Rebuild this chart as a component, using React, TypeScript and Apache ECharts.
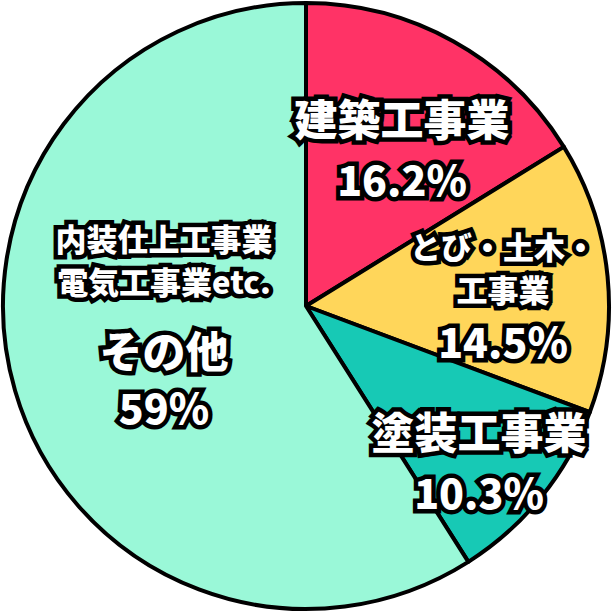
import React, { useEffect, useRef } from "react";
import * as echarts from "echarts";

const categories = ["建築工事業", "とび・土木・\n工事業", "塗装工事業", "その他"];
const values = [16.2, 14.5, 10.3, 59];
const notes = ["", "", "", "内装仕上工事業\n電気工事業etc."];
const colors = ["#FF3366", "#FFD65A", "#17C9B5", "#9AF8D8"];

const labelPos = [
  [402, 147],
  [503, 297],
  [479, 466],
  [164, 324],
];

const FONT = '"Noto Sans CJK JP", "Noto Sans", sans-serif';
const base = {
  color: "#fff",
  fontFamily: FONT,
  fontWeight: 900 as any,
  textBorderColor: "#000",
  textBorderWidth: 9,
};

export default function App() {
  const ref = useRef<HTMLDivElement>(null);
  useEffect(() => {
    if (!ref.current) return;
    const chart = echarts.init(ref.current, null, { renderer: "svg" });
    const data = categories.map((c, i) => ({
      name: c,
      value: values[i],
      itemStyle: { color: colors[i] },
    }));
    chart.setOption({
      animation: false,
      series: [
        {
          type: "pie",
          center: [306, 306],
          radius: [0, 303],
          startAngle: 90,
          clockwise: true,
          data,
          itemStyle: { borderColor: "#000", borderWidth: 4 },
          labelLine: { show: false },
          label: {
            show: true,
            position: "inside",
            formatter: (p: any) => {
              const i = p.dataIndex;
              const lines: string[] = [];
              if (notes[i]) {
                notes[i].split("\n").forEach((l) => lines.push(`{s|${l}}`));
                lines.push("{gap|}");
              }
              const nameStyle = i === 1 ? "s" : i === 2 ? "n2" : "n";
              p.name.split("\n").forEach((l: string) => lines.push(`{${nameStyle}|${l}}`));
              lines.push(`{p${i}|${p.value}%}`);
              return lines.join("\n");
            },
            rich: {
              n: { ...base, fontSize: 43, lineHeight: 62 },
              n2: { ...base, fontSize: 43, lineHeight: 50 },
              s: { ...base, fontSize: 31, lineHeight: 43 },
              gap: { ...base, fontSize: 10, lineHeight: 16 },
              p0: { ...base, fontSize: 41, lineHeight: 60 },
              p1: { ...base, fontSize: 41, lineHeight: 60 },
              p2: { ...base, fontSize: 41, lineHeight: 72 },
              p3: { ...base, fontSize: 41, lineHeight: 52 },
            },
          },
          labelLayout: (params: any) => {
            const pos = labelPos[params.dataIndex];
            return { x: pos[0], y: pos[1], align: "center", verticalAlign: "middle" };
          },
        },
      ],
    });
    return () => chart.dispose();
  }, []);
  return (
    <div
      ref={ref}
      style={{ position: "fixed", left: 0, top: 0, width: 616, height: 616, background: "#fff" }}
    />
  );
}
